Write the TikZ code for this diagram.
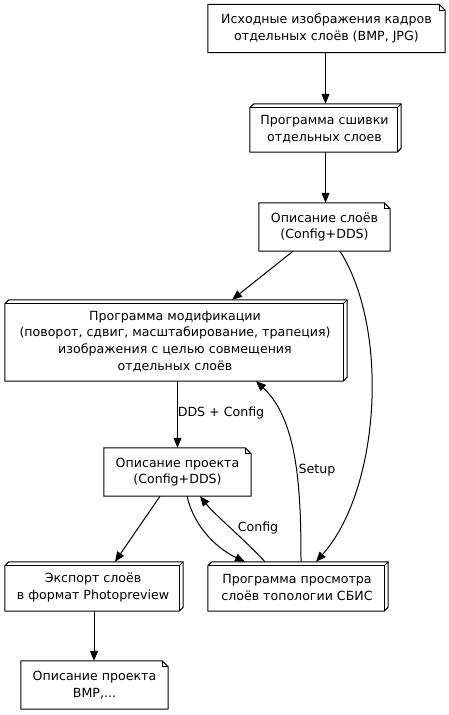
\documentclass[tikz,border=0pt]{standalone}
\usepackage{fontspec}
\setmainfont{DejaVu Sans}
\usetikzlibrary{arrows.meta,calc}
\tikzset{
  lbl/.style={font=\fontsize{12.6bp}{16.6bp}\selectfont, align=center, inner sep=0pt},
  nd/.style={lbl, minimum width=#1, minimum height=48bp},
  ln/.style={line width=1bp, black},
  arr/.style={ln, -{Triangle[length=10bp,width=8bp]}},
}
\newcommand\notedraw[1]{%
  \draw[ln, fill=white] (#1.south west) -- (#1.south east) -- ([yshift=-6bp]#1.north east) -- ([xshift=-6bp]#1.north east) -- (#1.north west) -- cycle;
  \draw[ln] ([xshift=-6bp]#1.north east) |- ([yshift=-6bp]#1.north east);}
\newcommand\boxthreed[1]{%
  \draw[ln, fill=white] ([yshift=-4bp]#1.north west) -- ([xshift=4bp]#1.north west) -- (#1.north east) -- ([yshift=4bp]#1.south east) -- ([xshift=-4bp]#1.south east) -- (#1.south west) -- cycle;
  \draw[ln] ([yshift=-4bp]#1.north west) -- ([xshift=-4bp,yshift=-4bp]#1.north east) -- ([xshift=-4bp]#1.south east);
  \draw[ln] ([xshift=-4bp,yshift=-4bp]#1.north east) -- (#1.north east);}
\begin{document}
\begin{tikzpicture}[x=1bp,y=-1bp]
\fill[white] (0,0) rectangle (449,715);
\useasboundingbox (0,0) rectangle (449,715);
\path (326.5,28.5) node[nd=237bp] (n1) {};
\path (325.5,128) node[nd=151bp] (n2) {};
\path (324.5,227) node[nd=131bp] (n3) {};
\path (176,340.5) node[nd=342bp, minimum height=81bp] (n4) {};
\path (177.5,472) node[nd=147bp] (n5) {};
\path (94,586.5) node[nd=178bp, minimum height=49bp] (n6) {};
\path (298,586.5) node[nd=180bp, minimum height=49bp] (n7) {};
\path (94.5,685) node[nd=147bp] (n8) {};
\notedraw{n1}
\boxthreed{n2}
\notedraw{n3}
\boxthreed{n4}
\notedraw{n5}
\boxthreed{n6}
\boxthreed{n7}
\notedraw{n8}
\node[lbl] at (n1) {Исходные изображения кадров\\отдельных слоёв (BMP, JPG)};
\node[lbl] at ([xshift=-1bp,yshift=-1bp]n2) {Программа сшивки\\отдельных слоев};
\node[lbl] at (n3) {Описание слоёв\\(Config+DDS)};
\node[lbl] at ([xshift=-1bp,yshift=-1bp]n4) {Программа модификации\\(поворот, сдвиг, масштабирование, трапеция)\\изображения с целью совмещения\\отдельных слоёв};
\node[lbl] at (n5) {Описание проекта\\(Config+DDS)};
\node[lbl] at ([xshift=-1bp,yshift=-1bp]n6) {Экспорт слоёв\\в формат Photopreview};
\node[lbl] at ([xshift=-1bp,yshift=-1bp]n7) {Программа просмотра\\слоёв топологии СБИС};
\node[lbl] at (n8) {Описание проекта\\BMP,...};
% edges
\draw[arr] ([xshift=-1bp]n1.south) -- (n2.north);
\draw[arr] (n2.north |- n2.south) -- (n2.north |- n3.north);
\draw[arr] ([xshift=-31.5bp]n3.south) -- ([xshift=56bp]n4.north);
\draw[arr] ([xshift=15.5bp]n3.south) .. controls (390,330) and (380,490) .. ([xshift=18bp]n7.north);
\draw[arr] (n5.north |- n4.south) -- (n5.north);
\node[lbl] (l1) at (221,413) {DDS + Config};
\draw[arr] ([xshift=3bp]n7.north) .. controls (301,490) and (298,420) .. ([xshift=80bp]n4.south);
\node[lbl] (l2) at (317,470) {Setup};
\draw[arr] ([xshift=-17.5bp]n5.south) -- ([xshift=21bp]n6.north);
\draw[arr] ([xshift=9.5bp]n5.south) .. controls (195,530) and (220,550) .. ([xshift=-53bp]n7.north);
\draw[arr] ([xshift=-33bp]n7.north) .. controls (245,540) and (215,515) .. ([xshift=22.5bp]n5.south);
\node[lbl] (l3) at (258,528) {Config};
\draw[arr] (n6.south) -- (n6.south |- n8.north);
\end{tikzpicture}
\end{document}
